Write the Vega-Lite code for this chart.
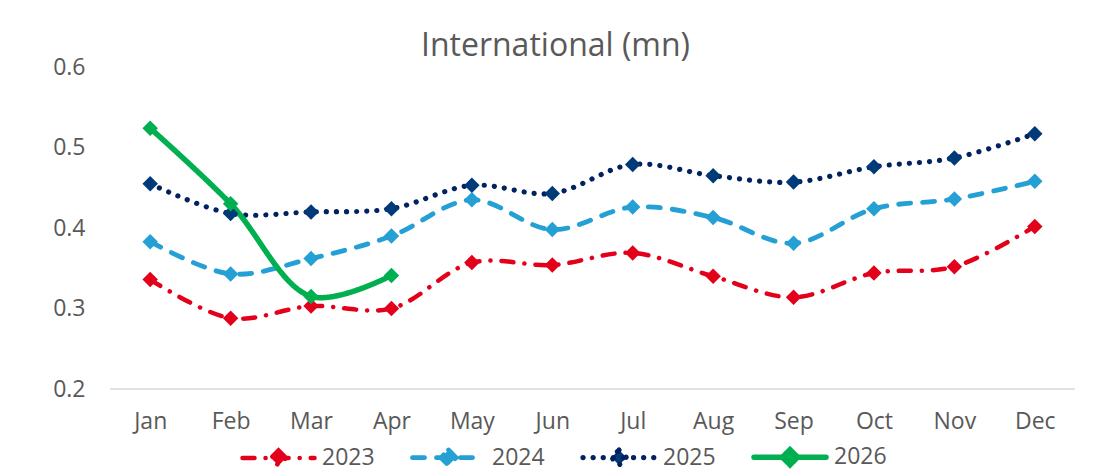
{
  "$schema": "https://vega.github.io/schema/vega-lite/v6.json",
  "width": 965,
  "height": 322,
  "autosize": {"type": "none"},
  "padding": {"left": 110, "top": 67, "right": 24, "bottom": 87},
  "background": "white",
  "title": {
    "text": "International (mn)",
    "anchor": "middle",
    "dx": -37,
    "dy": 15,
    "offset": 8,
    "font": "Open Sans",
    "fontSize": 32,
    "fontWeight": "normal",
    "color": "#595959"
  },
  "config": {
    "view": {"stroke": null},
    "font": "Open Sans"
  },
  "data": {
    "values": [
      {"month": "Jan", "year": "2023", "value": 0.336},
      {"month": "Feb", "year": "2023", "value": 0.288},
      {"month": "Mar", "year": "2023", "value": 0.303},
      {"month": "Apr", "year": "2023", "value": 0.300},
      {"month": "May", "year": "2023", "value": 0.357},
      {"month": "Jun", "year": "2023", "value": 0.354},
      {"month": "Jul", "year": "2023", "value": 0.369},
      {"month": "Aug", "year": "2023", "value": 0.340},
      {"month": "Sep", "year": "2023", "value": 0.314},
      {"month": "Oct", "year": "2023", "value": 0.344},
      {"month": "Nov", "year": "2023", "value": 0.352},
      {"month": "Dec", "year": "2023", "value": 0.402},
      {"month": "Jan", "year": "2024", "value": 0.383},
      {"month": "Feb", "year": "2024", "value": 0.343},
      {"month": "Mar", "year": "2024", "value": 0.362},
      {"month": "Apr", "year": "2024", "value": 0.390},
      {"month": "May", "year": "2024", "value": 0.435},
      {"month": "Jun", "year": "2024", "value": 0.398},
      {"month": "Jul", "year": "2024", "value": 0.426},
      {"month": "Aug", "year": "2024", "value": 0.413},
      {"month": "Sep", "year": "2024", "value": 0.381},
      {"month": "Oct", "year": "2024", "value": 0.424},
      {"month": "Nov", "year": "2024", "value": 0.436},
      {"month": "Dec", "year": "2024", "value": 0.458},
      {"month": "Jan", "year": "2025", "value": 0.455},
      {"month": "Feb", "year": "2025", "value": 0.418},
      {"month": "Mar", "year": "2025", "value": 0.420},
      {"month": "Apr", "year": "2025", "value": 0.424},
      {"month": "May", "year": "2025", "value": 0.453},
      {"month": "Jun", "year": "2025", "value": 0.443},
      {"month": "Jul", "year": "2025", "value": 0.479},
      {"month": "Aug", "year": "2025", "value": 0.465},
      {"month": "Sep", "year": "2025", "value": 0.457},
      {"month": "Oct", "year": "2025", "value": 0.476},
      {"month": "Nov", "year": "2025", "value": 0.487},
      {"month": "Dec", "year": "2025", "value": 0.517},
      {"month": "Jan", "year": "2026", "value": 0.524},
      {"month": "Feb", "year": "2026", "value": 0.430},
      {"month": "Mar", "year": "2026", "value": 0.315},
      {"month": "Apr", "year": "2026", "value": 0.341}
    ]
  },
  "encoding": {
    "x": {
      "field": "month",
      "type": "nominal",
      "sort": ["Jan", "Feb", "Mar", "Apr", "May", "Jun", "Jul", "Aug", "Sep", "Oct", "Nov", "Dec"],
      "scale": {"paddingInner": 0, "paddingOuter": 0.5},
      "axis": {
        "title": null,
        "labelAngle": 0,
        "labelFontSize": 23,
        "labelColor": "#595959",
        "labelPadding": 21,
        "ticks": false,
        "domain": false,
        "grid": false
      }
    },
    "y": {
      "field": "value",
      "type": "quantitative",
      "scale": {"domain": [0.2, 0.6], "nice": false, "zero": false},
      "axis": {
        "title": null,
        "values": [0.2, 0.3, 0.4, 0.5, 0.6],
        "format": ".1f",
        "labelFontSize": 23,
        "labelColor": "#595959",
        "labelPadding": 25,
        "ticks": false,
        "domain": false,
        "grid": false
      }
    }
  },
  "layer": [
    {
      "mark": {"type": "rule", "color": "#D9D9D9", "strokeWidth": 1.5},
      "data": {"values": [{"base": 0.2}]},
      "encoding": {
        "x": null,
        "y": {"field": "base", "type": "quantitative"}
      }
    },
    {
      "mark": {"type": "line", "interpolate": "catmull-rom", "strokeCap": "round"},
      "encoding": {
        "color": {
          "field": "year",
          "type": "nominal",
          "scale": {"domain": ["2023", "2024", "2025", "2026"], "range": ["#E3001B", "#25A0D4", "#002260", "#00B050"]},
          "legend": {
            "title": null,
            "orient": "none",
            "direction": "horizontal",
            "legendX": 130,
            "legendY": 351,
            "labelFontSize": 23,
            "labelColor": "#595959",
            "labelOffset": 5,
            "columnPadding": 27,
            "symbolType": "M-1,0H1M0,-0.21L0.21,0L0,0.21L-0.21,0Z",
            "symbolSize": 5184,
            "symbolStrokeWidth": 4.5,
            "encode": {
              "symbols": {"update": {"fill": {"scale": "color", "field": "value"}, "strokeCap": {"value": "round"}}}
            }
          }
        },
        "strokeDash": {
          "field": "year",
          "type": "nominal",
          "scale": {"domain": ["2023", "2024", "2025", "2026"], "range": [[12, 11, 0.1, 11], [12, 12], [0.1, 10], [1, 0]]},
          "legend": {"title": null}
        },
        "strokeWidth": {
          "field": "year",
          "type": "nominal",
          "scale": {"domain": ["2023", "2024", "2025", "2026"], "range": [4.5, 5.5, 4.5, 4]},
          "legend": null
        }
      }
    },
    {
      "mark": {"type": "point", "shape": "diamond", "filled": true, "size": 240, "opacity": 1},
      "encoding": {
        "fill": {
          "field": "year",
          "type": "nominal",
          "scale": {"domain": ["2023", "2024", "2025", "2026"], "range": ["#E3001B", "#25A0D4", "#003A78", "#00B050"]},
          "legend": null
        }
      }
    }
  ]
}
